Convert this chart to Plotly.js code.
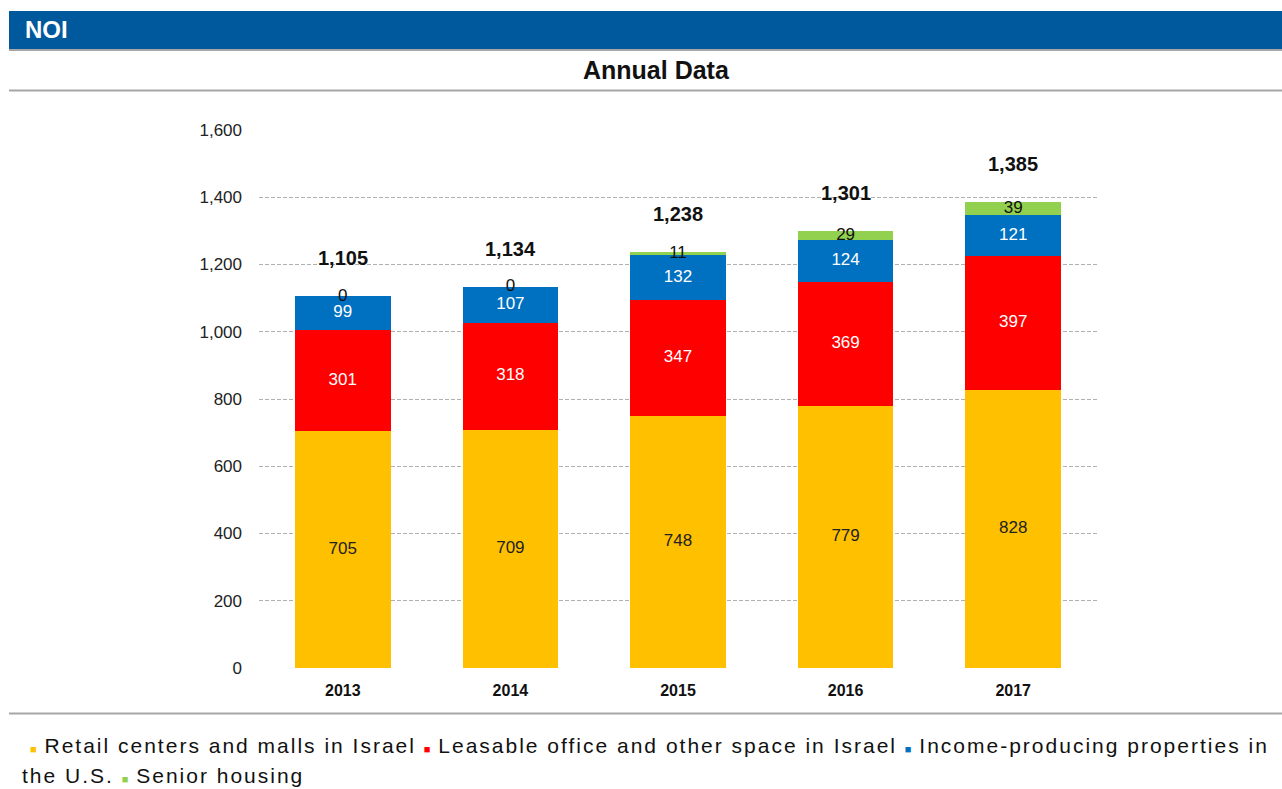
<!DOCTYPE html>
<html><head><meta charset="utf-8">
<script src="https://cdn.plot.ly/plotly-3.0.1.min.js"></script>
<style>
html,body{margin:0;padding:0;background:#fff}#chart{width:1282px;height:789px}
</style>
</head><body><div id="chart"></div>
<script>
const years = ['2013','2014','2015','2016','2017'];
const retail = [705, 709, 748, 779, 828];
const office = [301, 318, 347, 369, 397];
const usProps = [99, 107, 132, 124, 121];
const senior = [0, 0, 11, 29, 39];
const totals = [1105, 1134, 1238, 1301, 1385];
const seriesNames = ['Retail centers and malls in Israel', 'Leasable office and other space in Israel', 'Income-producing properties in the U.S.', 'Senior housing'];
const yTicks = [0, 200, 400, 600, 800, 1000, 1200, 1400, 1600];

const colors = ['#FFC000', '#FF0000', '#0070C0', '#92D050'];
const textColors = ['#222222', '#FFFFFF', '#FFFFFF', '#111111'];
const series = [retail, office, usProps, senior];
const FONT = 'Liberation Sans, Arial, Helvetica, sans-serif';

const W = 1282, H = 789;
const px = x => x / W, py = y => 1 - y / H;

const traces = [];
series.forEach((vals, i) => {
  traces.push({type: 'bar', x: years, y: vals, name: seriesNames[i], marker: {color: colors[i]}, showlegend: false, hoverinfo: 'none'});
});
series.forEach((vals, i) => {
  const mids = vals.map((v, k) => {
    let base = 0;
    for (let j = 0; j < i; j++) base += series[j][k];
    return base + v / 2;
  });
  traces.push({type: 'scatter', mode: 'text', x: years, y: mids, text: vals.map(v => String(v)),
    textfont: {family: FONT, size: 17, color: textColors[i]},
    showlegend: false, hoverinfo: 'none', cliponaxis: false});
});

const annotations = totals.map((t, k) => ({
  x: k, y: t, xref: 'x', yref: 'y', text: '<b>' + t.toLocaleString('en-US') + '</b>',
  showarrow: false, yshift: 38, font: {family: FONT, size: 20, color: '#111'}
}));
annotations.push({xref: 'paper', yref: 'paper', x: px(23), y: py(30), xanchor: 'left', yanchor: 'middle', text: '<b>NOI</b>', showarrow: false,
  font: {family: FONT, size: 24, color: '#fff'}});
annotations.push({xref: 'paper', yref: 'paper', x: px(657), y: py(70), xanchor: 'center', yanchor: 'middle', text: '<b>Annual Data</b>', showarrow: false,
  font: {family: FONT, size: 25, color: '#111'}});
const sq = c => '<span style="color:' + c + ';font-size:11px">■</span>';
const spaced = s => '<span style="letter-spacing:2px">' + s + '</span>';
annotations.push({xref: 'paper', yref: 'paper', x: px(28), y: py(745), xanchor: 'left', yanchor: 'middle', showarrow: false,
  text: sq(colors[0]) + spaced(' ' + seriesNames[0] + ' ') + sq(colors[1]) + spaced(' ' + seriesNames[1] + ' ') + sq(colors[2]) + spaced(' Income-producing properties in'),
  font: {family: FONT, size: 21, color: '#111'}});
annotations.push({xref: 'paper', yref: 'paper', x: px(20), y: py(775), xanchor: 'left', yanchor: 'middle', showarrow: false,
  text: spaced('the U.S. ') + sq(colors[3]) + spaced(' ' + seriesNames[3]),
  font: {family: FONT, size: 21, color: '#111'}});

const shapes = [
  {type: 'rect', xref: 'paper', yref: 'paper', x0: px(9), x1: px(1282), y0: py(11), y1: py(49), fillcolor: '#00599D', line: {width: 0}, layer: 'below'},
  {type: 'line', xref: 'paper', yref: 'paper', x0: px(9), x1: px(1282), y0: py(50), y1: py(50), line: {color: '#A6A6A6', width: 2}},
  {type: 'line', xref: 'paper', yref: 'paper', x0: px(9), x1: px(1282), y0: py(90.5), y1: py(90.5), line: {color: '#A6A6A6', width: 2}},
  {type: 'line', xref: 'paper', yref: 'paper', x0: px(9), x1: px(1282), y0: py(713.5), y1: py(713.5), line: {color: '#A6A6A6', width: 2}}
];

const layout = {
  width: W, height: H, margin: {l: 0, r: 0, t: 0, b: 0}, paper_bgcolor: '#fff', plot_bgcolor: '#fff',
  barmode: 'stack', bargap: 0.43, showlegend: false,
  font: {family: FONT, color: '#222'},
  xaxis: {domain: [px(259), px(1097)], type: 'category', range: [-0.5, 4.5], autorange: false,
    tickfont: {size: 16, color: '#111', weight: 'bold'},
    showgrid: false, zeroline: false, showline: false, ticks: '', ticklabelstandoff: 11},
  yaxis: {domain: [py(668), py(130)], range: [0, 1600], autorange: false, tickvals: yTicks, ticktext: yTicks.map(v => v.toLocaleString('en-US')),
    tickfont: {size: 17, color: '#222'}, showgrid: true, gridcolor: '#B0B0B0', griddash: '4px,2px', gridwidth: 1,
    zeroline: false, showline: false, ticks: '', ticklabelstandoff: 16},
  annotations: annotations, shapes: shapes
};
Plotly.newPlot('chart', traces, layout, {displayModeBar: false, staticPlot: true});
</script></body></html>
